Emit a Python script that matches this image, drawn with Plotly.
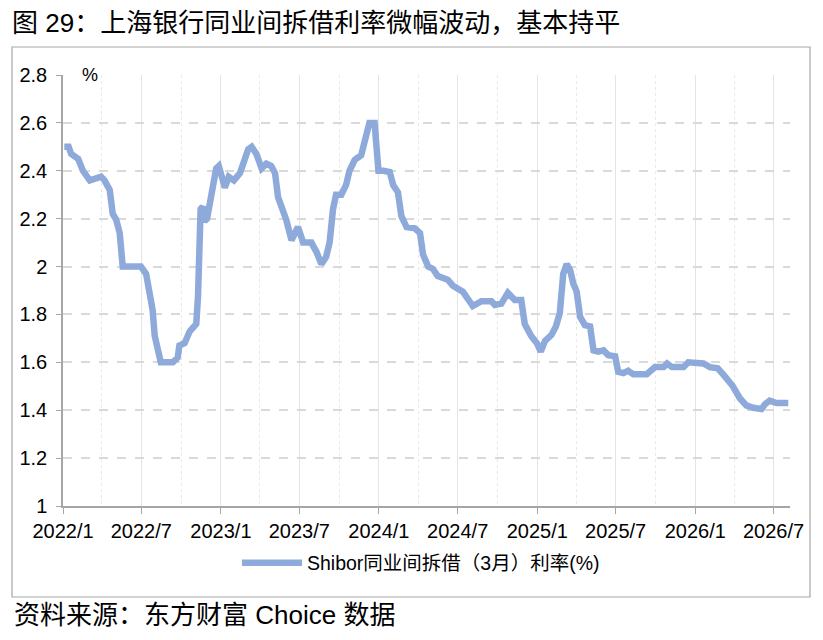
import plotly.graph_objects as go

# 读图估计的 Shibor 3M 数据
fechas = [
    "2022-01-04", "2022-01-14", "2022-01-20", "2022-02-05", "2022-02-16", "2022-03-04",
    "2022-03-30", "2022-04-07", "2022-04-19", "2022-04-26", "2022-05-04", "2022-05-12",
    "2022-05-19", "2022-05-27", "2022-06-30", "2022-07-12", "2022-07-20", "2022-07-27",
    "2022-08-01", "2022-08-08", "2022-08-15", "2022-09-12", "2022-09-23", "2022-09-27",
    "2022-10-09", "2022-10-21", "2022-11-05", "2022-11-09", "2022-11-13", "2022-11-15",
    "2022-11-20", "2022-11-24", "2022-11-30", "2022-12-06", "2022-12-13", "2022-12-21",
    "2022-12-27", "2023-01-10", "2023-01-19", "2023-01-31", "2023-02-14", "2023-02-25",
    "2023-03-05", "2023-03-13", "2023-03-24", "2023-04-05", "2023-04-16", "2023-04-27",
    "2023-05-06", "2023-05-13", "2023-05-21", "2023-06-01", "2023-06-13", "2023-06-28",
    "2023-07-10", "2023-07-29", "2023-08-10", "2023-08-21", "2023-09-01", "2023-09-09",
    "2023-09-17", "2023-09-24", "2023-10-06", "2023-10-17", "2023-10-25", "2023-11-06",
    "2023-11-21", "2023-11-29", "2023-12-10", "2023-12-22", "2023-12-31", "2024-01-11",
    "2024-01-26", "2024-02-03", "2024-02-14", "2024-02-22", "2024-03-05", "2024-03-24",
    "2024-04-05", "2024-04-12", "2024-04-24", "2024-05-05", "2024-05-16", "2024-06-08",
    "2024-06-20", "2024-07-13", "2024-07-24", "2024-08-05", "2024-08-25", "2024-09-17",
    "2024-09-25", "2024-10-10", "2024-10-25", "2024-11-10", "2024-11-25", "2024-12-03",
    "2024-12-18", "2024-12-31", "2025-01-09", "2025-01-19", "2025-02-03", "2025-02-13",
    "2025-02-22", "2025-03-02", "2025-03-10", "2025-03-18", "2025-03-25", "2025-04-02",
    "2025-04-10", "2025-04-21", "2025-05-03", "2025-05-11", "2025-05-22", "2025-06-03",
    "2025-06-14", "2025-06-30", "2025-07-07", "2025-07-19", "2025-07-30", "2025-08-11",
    "2025-09-11", "2025-09-30", "2025-10-20", "2025-10-28", "2025-11-08", "2025-12-05",
    "2025-12-16", "2026-01-20", "2026-02-04", "2026-02-22", "2026-03-11", "2026-03-29",
    "2026-04-14", "2026-04-29", "2026-05-15", "2026-06-03", "2026-06-11", "2026-06-22",
    "2026-07-08", "2026-08-04",
]
tasa = [
    2.50, 2.50, 2.47, 2.45, 2.40, 2.36,
    2.375, 2.36, 2.32, 2.22, 2.195, 2.14,
    2.00, 2.00, 2.00, 1.97, 1.89, 1.82,
    1.71, 1.65, 1.60, 1.60, 1.62, 1.67,
    1.68, 1.73, 1.76, 1.875, 2.10, 2.24,
    2.25, 2.19, 2.20, 2.26, 2.33, 2.41,
    2.42, 2.33, 2.375, 2.36, 2.39, 2.445,
    2.49, 2.50, 2.47, 2.41, 2.43, 2.42,
    2.39, 2.29, 2.25, 2.195, 2.11, 2.165,
    2.10, 2.10, 2.06, 2.01, 2.04, 2.10,
    2.24, 2.30, 2.30, 2.34, 2.40, 2.445,
    2.465, 2.515, 2.60, 2.60, 2.40, 2.40,
    2.395, 2.34, 2.31, 2.21, 2.165, 2.16,
    2.14, 2.05, 2.00, 1.99, 1.96, 1.945,
    1.92, 1.895, 1.87, 1.835, 1.855, 1.855,
    1.84, 1.845, 1.89, 1.86, 1.86, 1.76,
    1.71, 1.68, 1.645, 1.69, 1.715, 1.75,
    1.805, 1.97, 2.01, 1.985, 1.93, 1.895,
    1.79, 1.755, 1.75, 1.65, 1.645, 1.65,
    1.63, 1.625, 1.56, 1.555, 1.565, 1.55,
    1.55, 1.58, 1.58, 1.595, 1.58, 1.58,
    1.60, 1.595, 1.58, 1.575, 1.54, 1.50,
    1.45, 1.42, 1.41, 1.405, 1.425, 1.44,
    1.43, 1.43,
]
y_ticks = [1, 1.2, 1.4, 1.6, 1.8, 2, 2.2, 2.4, 2.6, 2.8]
y_labels = ["1", "1.2", "1.4", "1.6", "1.8", "2", "2.2", "2.4", "2.6", "2.8"]

titulo = "图 29：上海银行同业间拆借利率微幅波动，基本持平"
serie = "Shibor同业间拆借（3月）利率(%)"
fuente = "资料来源：东方财富 Choice 数据"

letra = "Liberation Sans, Arial, Noto Sans CJK SC, sans-serif"
azul = "#8eaadb"
gris = "#a6a6a6"

# la pagina tiene 8px de margen en el body -> figura 815x632
W, H = 815, 632
pw = 727
ph = 431

fig = go.Figure()
fig.add_trace(go.Scatter(x=fechas, y=tasa, mode="lines", name=serie,
                         line=dict(color=azul, width=6.5)))

fig.update_layout(
    width=W, height=H,
    margin=dict(l=55, r=33, t=67, b=134),
    paper_bgcolor="white",
    plot_bgcolor="white",
    font=dict(family=letra, size=20, color="black"),
    title=dict(text=titulo, xref="container", x=4/W, xanchor="left",
               y=1, yanchor="top", pad=dict(t=6),
               font=dict(family=letra, size=26, color="black")),
    showlegend=True,
    legend=dict(orientation="h", x=174/pw, y=-57/ph, xanchor="left", yanchor="middle",
                font=dict(size=19.5), bgcolor="rgba(0,0,0,0)", itemwidth=60),
)

fig.update_xaxes(
    type="date",
    range=["2022-01-01", "2026-08-08"],
    tick0="2022-01-01", dtick="M6", tickformat="%Y/%-m",
    ticks="outside", ticklen=6, tickcolor=gris,
    showline=True, linecolor=gris, linewidth=1.5,
    showgrid=True, gridcolor="#e4e4e4", gridwidth=1,
    minor=dict(dtick="M3", showgrid=True, gridcolor="#e8e8e8", griddash="dot", ticks=""),
    zeroline=False,
)
fig.update_yaxes(
    range=[1, 2.8],
    tickvals=y_ticks, ticktext=y_labels,
    ticks="outside", ticklen=5, tickcolor=gris,
    ticklabelstandoff=5,
    showline=True, linecolor=gris, linewidth=1.5,
    showgrid=True, gridcolor="#d9d9d9", gridwidth=1.5, griddash="dash",
    zeroline=False,
)

# 外框
fig.add_shape(type="rect", xref="paper", yref="paper",
              x0=-51/pw, x1=747/pw, y0=-91/ph, y1=459/ph,
              line=dict(color=gris, width=1.2))

fig.add_annotation(text="%", xref="paper", yref="paper", x=27/pw, y=1.0,
                   xanchor="center", yanchor="middle", showarrow=False,
                   font=dict(size=18))
fig.add_annotation(text=fuente, xref="paper", yref="paper", x=-51/pw, y=-109/ph,
                   xanchor="left", yanchor="middle", showarrow=False,
                   font=dict(size=26))

fig.write_html("out.html")
